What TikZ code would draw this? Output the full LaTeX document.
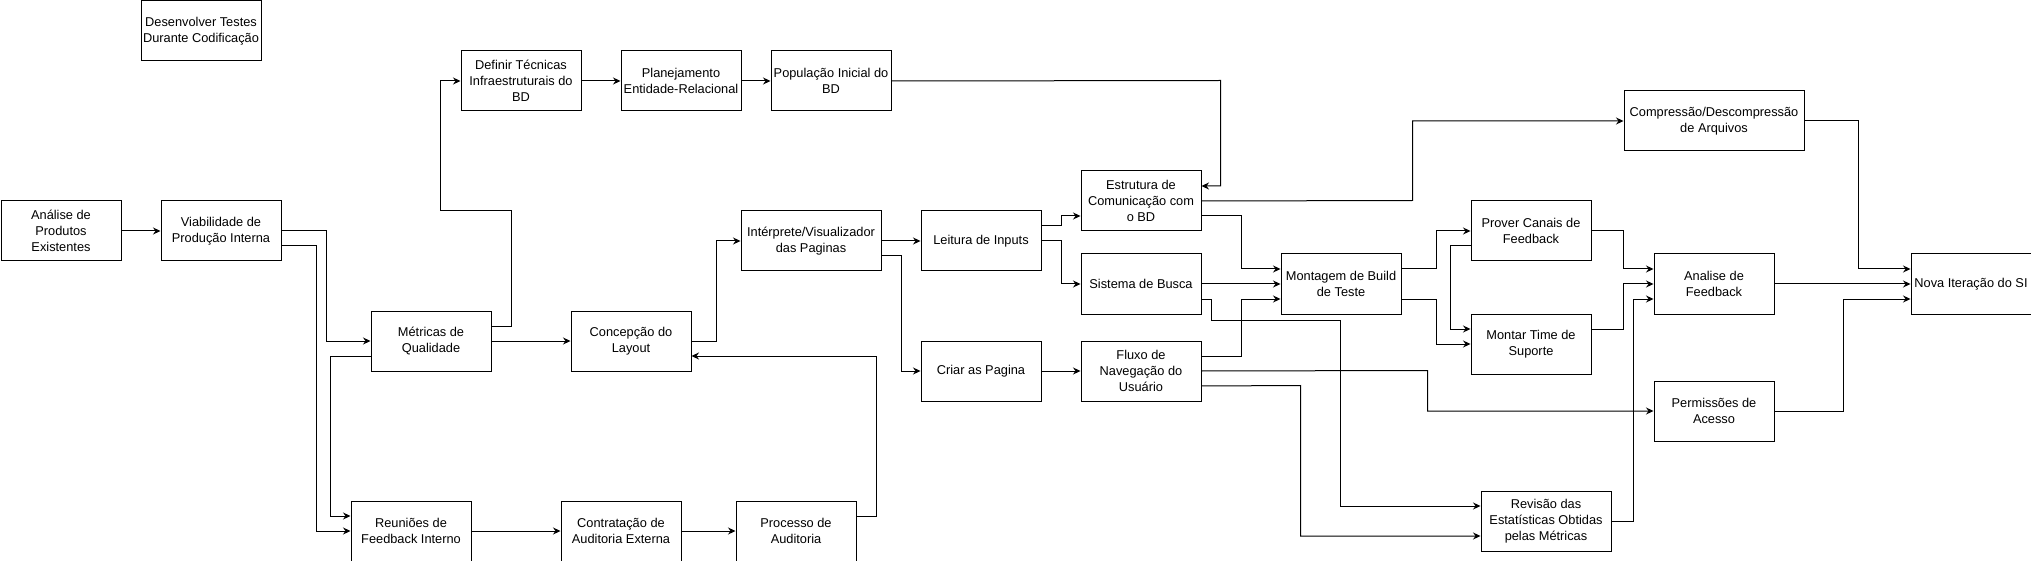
\documentclass[tikz,border=0pt]{standalone}
\usepackage{fontspec}
\setmainfont{Liberation Sans}
\usetikzlibrary{arrows.meta,calc}
\begin{document}
\begin{tikzpicture}[x=1pt,y=-1pt,
  box/.style={draw, line width=1pt, minimum width=120pt, minimum height=60pt, inner sep=1pt, align=center, font=\fontsize{12.8pt}{15.8pt}\selectfont, anchor=north west},
  conn/.style={draw, line width=1pt, -{Stealth[length=7.5pt,width=7pt,inset=2.5pt]}},
]
\useasboundingbox (0,0) rectangle (2031,561);
% nodes
\node[box] (des) at (140.5,0.5) {Desenvolver Testes\\Durante Codificação};
\node[box] (ana) at (0.5,200.5) {Análise de\\Produtos\\Existentes};
\node[box] (via) at (160.5,200.5) {Viabilidade de\\Produção Interna};
\node[box] (def) at (460.5,50.5) {Definir Técnicas\\Infraestruturais do\\BD};
\node[box] (pla) at (620.5,50.5) {Planejamento\\Entidade-Relacional};
\node[box] (pop) at (770.5,50.5) {População Inicial do\\BD};
\node[box] (met) at (370.5,310.5) {Métricas de\\Qualidade};
\node[box] (con) at (570.5,310.5) {Concepção do\\Layout};
\node[box, minimum width=140pt] (int) at (740.5,210.5) {Intérprete/Visualizador\\das Paginas};
\node[box] (lei) at (920.5,210.5) {Leitura de Inputs};
\node[box] (cri) at (920.5,340.5) {Criar as Pagina};
\node[box] (est) at (1080.5,170.5) {Estrutura de\\Comunicação com\\o BD};
\node[box] (sis) at (1080.5,253.5) {Sistema de Busca};
\node[box] (flu) at (1080.5,340.5) {Fluxo de\\Navegação do\\Usuário};
\node[box] (mon) at (1280.5,253.5) {Montagem de Build\\de Teste};
\node[box, minimum width=180pt] (cmp) at (1623.5,90.5) {Compressão/Descompressão\\de Arquivos};
\node[box] (pvr) at (1470.5,200.5) {Prover Canais de\\Feedback};
\node[box] (mtt) at (1470.5,313.5) {Montar Time de\\Suporte};
\node[box] (anl) at (1653.5,253.5) {Analise de\\Feedback};
\node[box] (nov) at (1910.5,253.5) {Nova Iteração do SI};
\node[box] (per) at (1653.5,380.5) {Permissões de\\Acesso};
\node[box, minimum width=130pt] (rev) at (1480.5,490.5) {Revisão das\\Estatísticas Obtidas\\pelas Métricas};
\node[box] (reu) at (350.5,500.5) {Reuniões de\\Feedback Interno};
\node[box] (ctr) at (560.5,500.5) {Contratação de\\Auditoria Externa};
\node[box] (pro) at (735.5,500.5) {Processo de\\Auditoria};
% connectors
\draw[conn] (ana.east) -- (via.west);
\draw[conn] (via.east) -- ++(45,0) |- (met.west);
\draw[conn] ($(via.east)+(0,15)$) -- ++(35,0) |- (reu.west);
\draw[conn] ($(met.west)+(0,15)$) -- ++(-40,0) |- ($(reu.west)+(0,-15)$);
\draw[conn] ($(met.east)+(0,-15)$) -- ++(20,0) |- (440.5,210.5) |- (def.west);
\draw[conn] (def.east) -- (pla.west);
\draw[conn] (pla.east) -- (pop.west);
\draw[conn] (pop.east) -- (1220.5,80.5) |- ($(est.east)+(0,-15)$);
\draw[conn] (met.east) -- (con.west);
\draw[conn] (con.east) -- ++(25,0) |- (int.west);
\draw[conn] (int.east) -- (lei.west);
\draw[conn] ($(int.east)+(0,15)$) -- ++(20,0) |- (cri.west);
\draw[conn] ($(pro.east)+(0,-15)$) -- ++(20,0) |- ($(con.east)+(0,15)$);
\draw[conn] (reu.east) -- (ctr.west);
\draw[conn] (ctr.east) -- (pro.west);
\draw[conn] ($(lei.east)+(0,-15)$) -- ++(20,0) |- ($(est.west)+(0,15)$);
\draw[conn] (lei.east) -- ++(20,0) |- (sis.west);
\draw[conn] (cri.east) -- (flu.west);
\draw[conn] (est.east) -- (1412.5,200.5) |- (cmp.west);
\draw[conn] ($(est.east)+(0,15)$) -- ++(40,0) |- ($(mon.west)+(0,-15)$);
\draw[conn] (sis.east) -- (mon.west);
\draw[conn] ($(sis.east)+(0,15)$) -- ++(10,0) |- (1340.5,320.5) |- ($(rev.west)+(0,-15)$);
\draw[conn] ($(flu.east)+(0,-15)$) -- ++(40,0) |- ($(mon.west)+(0,15)$);
\draw[conn] (flu.east) -- (1427.5,370.5) |- (per.west);
\draw[conn] ($(flu.east)+(0,15)$) -- (1300.5,385.5) |- ($(rev.west)+(0,15)$);
\draw[conn] ($(mon.east)+(0,-15)$) -- ++(35,0) |- (pvr.west);
\draw[conn] ($(mon.east)+(0,15)$) -- ++(35,0) |- (mtt.west);
\draw[conn] ($(pvr.west)+(0,15)$) -- ++(-20,0) |- ($(mtt.west)+(0,-15)$);
\draw[conn] (pvr.east) -- ++(32,0) |- ($(anl.west)+(0,-15)$);
\draw[conn] ($(mtt.east)+(0,-15)$) -- ++(32,0) |- (anl.west);
\draw[conn] (rev.east) -- ++(22,0) |- ($(anl.west)+(0,15)$);
\draw[conn] (cmp.east) -- ++(54,0) |- ($(nov.west)+(0,-15)$);
\draw[conn] (anl.east) -- (nov.west);
\draw[conn] (per.east) -- ++(69,0) |- ($(nov.west)+(0,15)$);
\end{tikzpicture}
\end{document}
